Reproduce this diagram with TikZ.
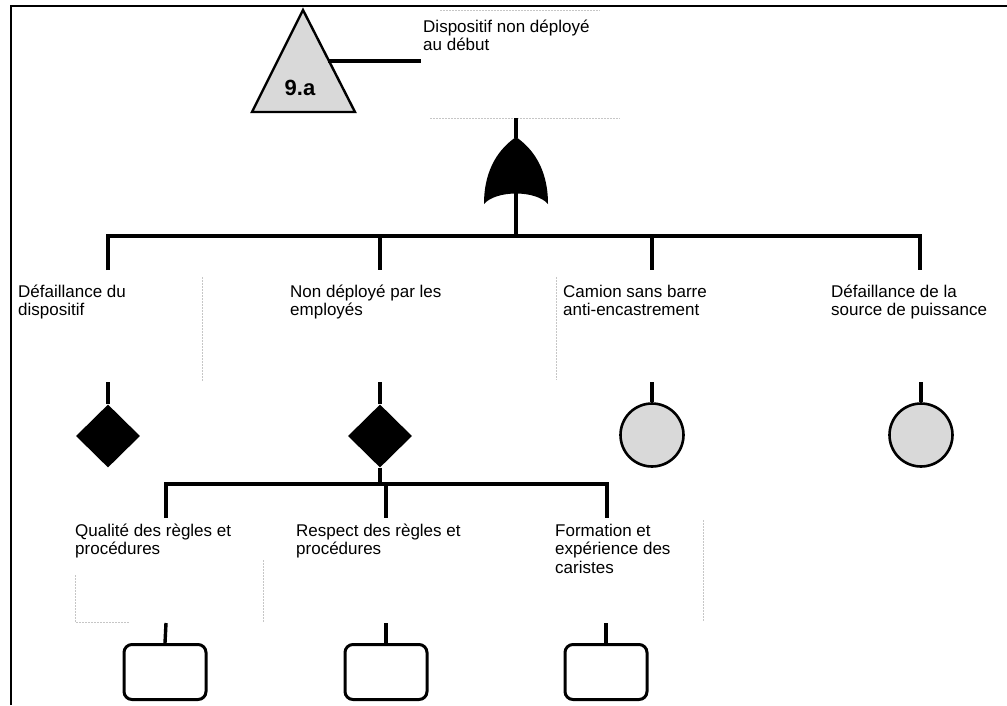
\documentclass[tikz,border=0pt]{standalone}
\usepackage{fontspec}
\setmainfont{Liberation Sans}
\usetikzlibrary{shapes.geometric}
\begin{document}
\begin{tikzpicture}[x=1pt,y=-1pt,
  conn/.style={line width=3.4pt},
  frame/.style={line width=2.4pt},
  lbl/.style={anchor=base west, align=left, inner sep=0pt, font=\fontsize{17}{18.5}\selectfont},
  faint/.style={gray!45, line width=0.7pt, dash pattern=on 1.5pt off 1.5pt},
  andgate/.style={diamond, fill=black, inner sep=0pt, minimum width=64pt, minimum height=63pt},
  basic/.style={circle, draw, line width=2.6pt, fill=gray!30, inner sep=0pt, minimum size=63pt},
  undev/.style={rectangle, draw, line width=3pt, rounded corners=8pt, inner sep=0pt, minimum width=82pt, minimum height=55pt}]
\useasboundingbox (0,0) rectangle (1007,705);
% frame
\draw[frame] (11,705) -- (11,6) -- (1007,6);
% transfer triangle
\draw[line width=2.4pt, fill=gray!30, line join=miter] (303,10) -- (355,112) -- (252,112) -- cycle;
\node[font=\bfseries\fontsize{22}{22}\selectfont, inner sep=0pt] (tri) at (300,88) {9.a};
\coordinate (triR) at (328,61);
\coordinate (triE) at (421,61);
\draw[conn] (triR) -- (triE);
\node[lbl] (top) at (423,50.5) {Dispositif non déployé\\au début};
% faint text box borders
\draw[faint] (440,10) -- (600,10);
\draw[faint] (430,118) -- (620,118);
\draw[faint] (202,277) -- (202,382);
\draw[faint] (556,277) -- (556,380);
\draw[faint] (75,575) -- (75,622) -- (130,622);
\draw[faint] (263,560) -- (263,622);
\draw[faint] (703,520) -- (703,622);
% OR gate
\coordinate (orin) at (516,118);
\coordinate (ortop) at (516,138);
\coordinate (orout) at (516,190);
\coordinate (bar) at (516,236);
\draw[conn] (orin) -- (ortop);
\fill (516,137) .. controls (532,148) and (548,168) .. (548,204)
  .. controls (536,190) and (496,190) .. (484,204)
  .. controls (484,168) and (500,148) .. (516,137) -- cycle;
\draw[conn] (orout) -- (bar);
% top bar
\coordinate (b1) at (108,236);
\coordinate (b2) at (380,236);
\coordinate (b3) at (652,236);
\coordinate (b4) at (920,236);
\draw[conn] (108,270) -- (b1) -- (b4) -- (920,270);
\draw[conn] (b2) -- (380,270);
\draw[conn] (b3) -- (652,270);
% labels
\node[lbl] (l1) at (18,315.5) {Défaillance du\\dispositif};
\node[lbl] (l2) at (290,315.5) {Non déployé par les\\employés};
\node[lbl] (l3) at (563,315.5) {Camion sans barre\\anti-encastrement};
\node[lbl] (l4) at (831,315.5) {Défaillance de la\\source de puissance};
% gates and events
\node[andgate] (d1) at (108,436) {};
\node[andgate] (d2) at (380,436) {};
\node[basic] (c1) at (652,435) {};
\node[basic] (c2) at (921,435) {};
\draw[conn] (108,382) -- (d1.north);
\draw[conn] (380,382) -- (d2.north);
\draw[conn] (652,382) -- (c1.north);
\draw[conn] (921,382) -- (c2.north);
% lower bar
\coordinate (e0) at (380,484);
\coordinate (e1) at (166,484);
\coordinate (e2) at (386,484);
\coordinate (e3) at (607,484);
\draw[conn] (d2.south) -- (e0);
\draw[conn] (166,518) -- (e1) -- (e3) -- (607,518);
\draw[conn] (e2) -- (386,518);
\node[lbl] (m1) at (75,554.5) {Qualité des règles et\\procédures};
\node[lbl] (m2) at (296,554.5) {Respect des règles et\\procédures};
\node[lbl] (m3) at (555,573) {Formation et\\expérience des\\caristes};
% undeveloped events
\node[undev] (u1) at (165,672) {};
\node[undev] (u2) at (386,672) {};
\node[undev] (u3) at (606,672) {};
\draw[conn] (166,623) -- (u1.north);
\draw[conn] (386,623) -- (u2.north);
\draw[conn] (606,623) -- (u3.north);
\end{tikzpicture}
\end{document}
